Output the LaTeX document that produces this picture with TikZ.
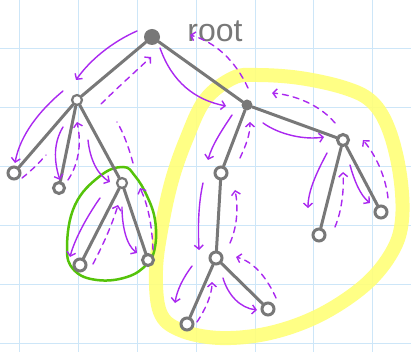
\documentclass[tikz,border=0pt]{standalone}
\usepackage{fontspec}
\setmainfont{Liberation Sans}
\usetikzlibrary{arrows.meta}
\definecolor{gridblue}{RGB}{205,230,248}
\definecolor{pengray}{RGB}{120,120,120}
\definecolor{penpurple}{RGB}{170,40,240}
\definecolor{hlyellow}{RGB}{255,255,120}
\definecolor{pengreen}{RGB}{85,195,10}
\tikzset{
  edge/.style={draw=pengray, line width=3pt, line cap=round},
  vtx/.style={circle, draw=pengray, line width=3pt, fill=white, minimum size=11pt, inner sep=0pt},
  fw/.style={draw=penpurple, line width=1.4pt, line cap=round, -{Straight Barb[length=4pt,width=9pt]}},
  bw/.style={fw, dash pattern=on 6pt off 5pt},
  bwn/.style={draw=penpurple, line width=1.4pt, line cap=round, dash pattern=on 6pt off 5pt},
}
\begin{document}
\begin{tikzpicture}[x=1pt,y=-1pt]
\useasboundingbox (0,0) rectangle (411,352);
\fill[white] (0,0) rectangle (411,352);
% grid
\foreach \gx in {19.8,78.6,137.4,196.2,255,313.8,372.6}
  \draw[gridblue, line width=1pt] (\gx,0) -- (\gx,352);
\foreach \gy in {49,107.8,166.6,225.4,284.2,343}
  \draw[gridblue, line width=1pt] (0,\gy) -- (411,\gy);
% yellow highlight
\draw[hlyellow, line width=14pt, opacity=0.9, line join=round]
  plot[smooth cycle, tension=0.6] coordinates {(233,78) (257,75) (300,78) (345,88) (372,102) (389,130) (400,175) (402,220) (392,252) (365,285) (320,315) (270,333) (220,338) (180,330) (160,312) (156,270) (162,225) (172,180) (186,140) (205,100)};
% green outline
\draw[pengreen, line width=2.5pt]
  plot[smooth cycle, tension=0.7] coordinates {(123,167) (135,176) (147,196) (155,220) (155,247) (147,264) (127,277) (97,280) (74,270) (67,247) (75,205) (100,176)};
% nodes
\node[circle, fill=pengray, minimum size=16pt, inner sep=0pt] (root) at (152,37) {};
\node[vtx, line width=2.2pt, minimum size=10pt] (A) at (77,100) {};
\node[vtx, minimum size=12pt] (L1) at (14,173) {};
\node[vtx] (L2) at (59,188) {};
\node[vtx, line width=2.2pt, minimum size=10pt] (B) at (122,183) {};
\node[vtx, minimum size=12pt] (B1) at (80,265) {};
\node[vtx] (B2) at (148,260) {};
\node[circle, fill=pengray, minimum size=11pt, inner sep=0pt] (C) at (247,105) {};
\node[vtx, minimum size=12pt] (D) at (221,173) {};
\node[vtx, minimum size=12pt] (E) at (216,258) {};
\node[vtx, minimum size=12pt] (E1) at (187,324) {};
\node[vtx, minimum size=12pt] (E2) at (268,309) {};
\node[vtx, minimum size=11pt] (F) at (343,140) {};
\node[vtx, minimum size=12pt] (F1) at (319,235) {};
\node[vtx, minimum size=12pt] (F2) at (381,212) {};
% edges
\draw[edge] (root) -- (A);
\draw[edge] (root) -- (C);
\draw[edge] (A) -- (L1);
\draw[edge] (A) -- (L2);
\draw[edge] (A) -- (B);
\draw[edge] (B) -- (B1);
\draw[edge] (B) -- (B2);
\draw[edge] (C) -- (D);
\draw[edge] (C) -- (F);
\draw[edge] (D) -- (E);
\draw[edge] (E) -- (E1);
\draw[edge] (E) -- (E2);
\draw[edge] (F) -- (F1);
\draw[edge] (F) -- (F2);
% label
\node[text=pengray, font=\fontsize{32}{32}\selectfont, inner sep=0pt] (rootlabel) at (215,31) {root};
% traversal arrows
\draw[fw] (137,31) .. controls (112,42) and (90,60) .. (76,80);
\draw[bw] (101,104) .. controls (115,90) and (135,72) .. (151,57);
\draw[fw] (160,48) .. controls (172,82) and (195,100) .. (226,106);
\draw[bw] (248,88) .. controls (235,60) and (215,42) .. (190,35);
\draw[fw] (63,91) .. controls (40,110) and (20,135) .. (15,163);
\draw[bwn] (22,178) .. controls (30,172) and (40,162) .. (46,155);
\draw[fw] (63,127) .. controls (52,145) and (55,165) .. (60,180);
\draw[bw] (68,180) .. controls (78,165) and (82,145) .. (77,122);
\draw[fw] (88,140) .. controls (90,160) and (98,175) .. (110,182);
\draw[bwn] (133,163) .. controls (128,145) and (123,132) .. (117,122);
\draw[fw] (100,198) .. controls (88,215) and (75,238) .. (70,257);
\draw[bw] (93,264) .. controls (103,245) and (112,225) .. (118,205);
\draw[fw] (122,207) .. controls (122,225) and (126,245) .. (137,253);
\draw[bw] (153,250) .. controls (152,225) and (148,205) .. (140,188);
\draw[fw] (232,115) .. controls (222,130) and (212,145) .. (208,160);
\draw[bw] (240,158) .. controls (246,145) and (250,135) .. (250,122);
\draw[fw] (263,123) .. controls (280,135) and (305,140) .. (324,137);
\draw[bw] (335,123) .. controls (320,105) and (295,95) .. (272,93);
\draw[fw] (203,183) .. controls (198,205) and (198,230) .. (199,250);
\draw[bw] (230,243) .. controls (238,225) and (238,205) .. (235,190);
\draw[fw] (192,266) .. controls (183,278) and (177,290) .. (175,303);
\draw[bw] (197,322) .. controls (205,310) and (212,295) .. (212,282);
\draw[fw] (223,278) .. controls (228,295) and (240,308) .. (257,310);
\draw[bw] (276,298) .. controls (268,280) and (255,262) .. (236,257);
\draw[fw] (327,153) .. controls (318,170) and (308,190) .. (308,208);
\draw[bw] (335,227) .. controls (342,210) and (344,190) .. (343,172);
\draw[fw] (350,165) .. controls (354,180) and (360,195) .. (370,203);
\draw[bw] (388,198) .. controls (386,180) and (378,158) .. (363,140);
\end{tikzpicture}
\end{document}
